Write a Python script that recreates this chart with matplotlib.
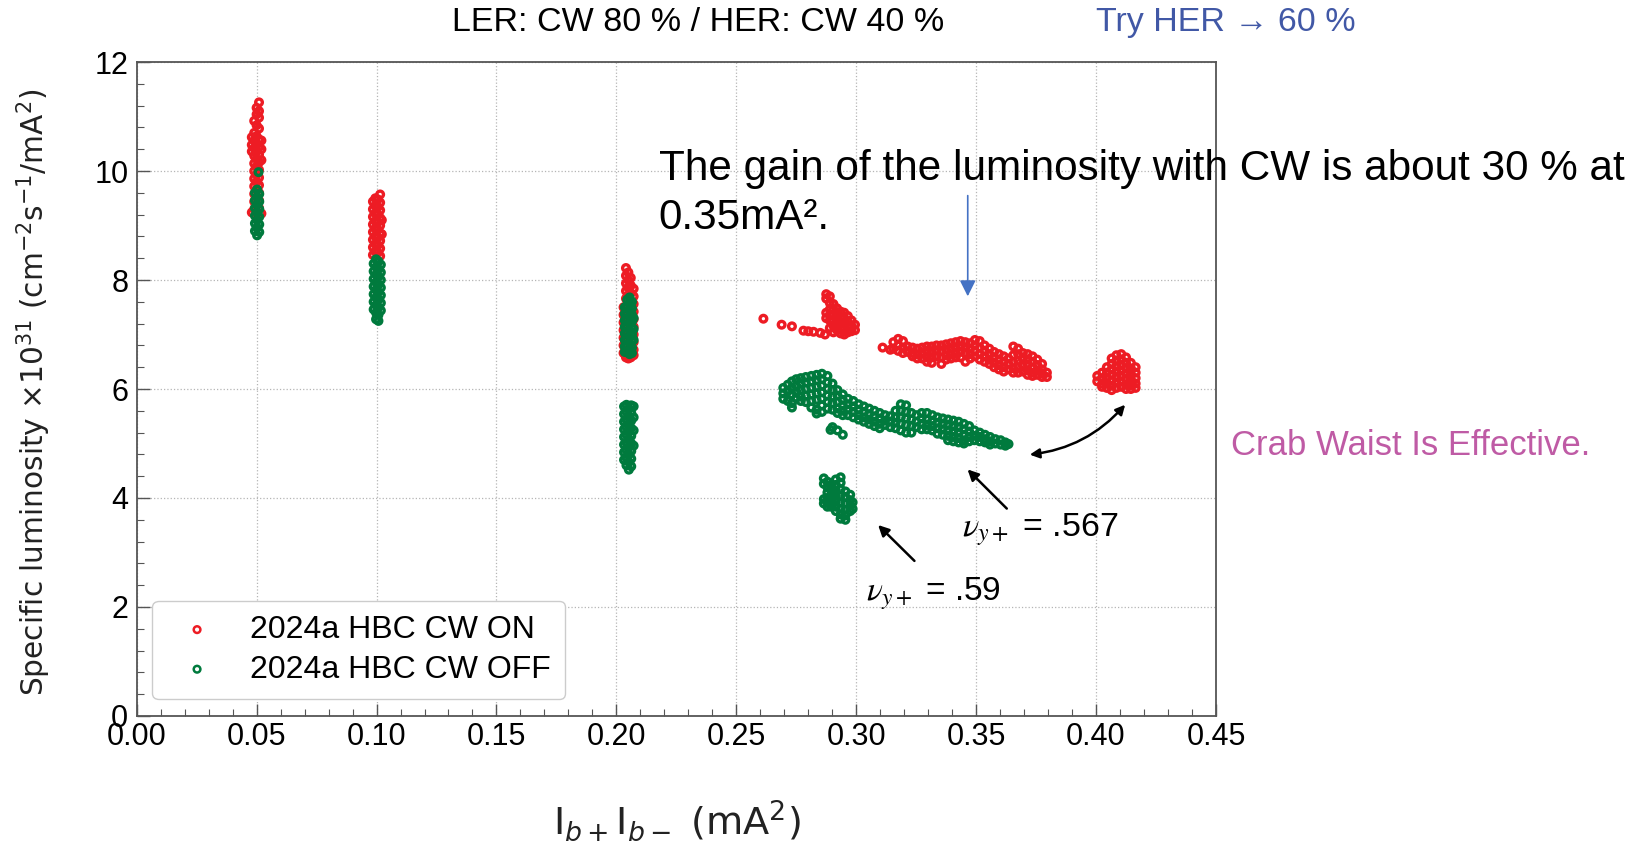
import matplotlib
matplotlib.use("Agg")
import matplotlib.pyplot as plt
from matplotlib.ticker import MultipleLocator, FormatStrFormatter

plt.rcParams['font.family'] = ['Liberation Sans', 'DejaVu Sans']

# Scans: (I_b+ I_b- [mA^2], [specific luminosity x1e31 ...]) columns
CW_ON = [
    # 0.05 mA^2
    (0.0480, [10.62, 10.48, 10.36, 9.24]),
    (0.0490, [10.92, 10.70, 10.56, 10.42, 10.28, 10.14, 10.00, 9.86, 9.72, 9.58, 9.44, 9.30]),
    (0.0500, [11.16, 11.04, 10.84, 10.64, 10.50, 10.36, 10.22, 10.08, 9.94, 9.80, 9.66, 9.52, 9.38]),
    (0.0510, [11.26, 11.10, 10.98, 10.78, 10.58, 10.44, 10.30, 10.16, 10.02, 9.88, 9.74, 9.60, 9.46, 9.32]),
    (0.0520, [10.56, 10.40, 10.20, 9.22]),
    # 0.10 mA^2
    (0.0985, [9.44, 9.30, 9.16, 9.02, 8.88, 8.74, 8.60, 8.46]),
    (0.0995, [9.50, 9.36, 9.22, 9.08, 8.94, 8.80, 8.66, 8.52]),
    (0.1005, [9.48, 9.34, 9.20, 9.06, 8.92, 8.78, 8.64, 8.50]),
    (0.1015, [9.57, 9.42, 9.28, 9.14, 9.00, 8.86, 8.72, 8.58, 8.44]),
    (0.1022, [9.10, 8.84]),
    # 0.20 mA^2
    (0.2030, [7.50, 7.36, 7.22, 7.08, 6.94, 6.80, 6.66]),
    (0.2040, [8.22, 8.08, 7.94, 7.80, 7.66, 6.58]),
    (0.2050, [8.14, 8.00, 7.86, 7.72, 6.56]),
    (0.2060, [8.04, 7.90, 7.76, 6.58]),
    (0.2072, [7.84, 7.70, 7.56, 7.42, 7.28, 7.14, 7.00, 6.86, 6.72, 6.62]),
    # current ramp, 0.26 - 0.30
    (0.2613, [7.29]), (0.2689, [7.18]), (0.2732, [7.15]), (0.2780, [7.07]),
    (0.2800, [7.06]), (0.2822, [7.05]), (0.2850, [7.03]), (0.2870, [7.00]),
    (0.2875, [7.74, 7.66, 7.40, 7.30]),
    (0.2890, [7.70, 7.58, 7.46, 7.36, 7.26, 7.12]),
    (0.2905, [7.56, 7.46, 7.36, 7.26, 7.16, 7.04]),
    (0.2920, [7.48, 7.38, 7.28, 7.18, 7.08]),
    (0.2935, [7.42, 7.32, 7.22, 7.12, 7.02]),
    (0.2950, [7.40, 7.30, 7.20, 7.10, 7.00]),
    (0.2965, [7.34, 7.24, 7.14, 7.04]),
    (0.2980, [7.26, 7.16, 7.06]),
    (0.2995, [7.18, 7.08]),
    # 0.31 - 0.38
    (0.3110, [6.76]), (0.3142, [6.72]), (0.3155, [6.86, 6.74]),
    (0.3175, [6.92, 6.80, 6.70]), (0.3195, [6.88, 6.76, 6.66]),
    (0.3215, [6.78, 6.68]), (0.3235, [6.76, 6.66, 6.60]),
    (0.3255, [6.74, 6.64, 6.56]), (0.3275, [6.76, 6.66, 6.56]),
    (0.3295, [6.78, 6.68, 6.58, 6.50]), (0.3315, [6.78, 6.68, 6.58, 6.48]),
    (0.3335, [6.80, 6.70, 6.60]), (0.3355, [6.80, 6.70, 6.58, 6.46]),
    (0.3375, [6.82, 6.72, 6.62, 6.54]), (0.3395, [6.84, 6.74, 6.64, 6.56]),
    (0.3415, [6.86, 6.76, 6.66, 6.58]), (0.3435, [6.88, 6.78, 6.68, 6.58]),
    (0.3455, [6.86, 6.76, 6.66, 6.50]), (0.3475, [6.84, 6.74, 6.64, 6.56]),
    (0.3495, [6.90, 6.80, 6.70, 6.60]), (0.3515, [6.88, 6.76, 6.64, 6.54]),
    (0.3535, [6.80, 6.70, 6.60, 6.50]), (0.3555, [6.74, 6.64, 6.54, 6.46]),
    (0.3575, [6.68, 6.58, 6.48, 6.40]), (0.3595, [6.64, 6.54, 6.44, 6.36]),
    (0.3615, [6.60, 6.50, 6.40, 6.32]), (0.3635, [6.56, 6.46, 6.36]),
    (0.3655, [6.78, 6.62, 6.50, 6.38, 6.30]), (0.3675, [6.74, 6.64, 6.52, 6.40, 6.30]),
    (0.3695, [6.66, 6.54, 6.42, 6.32]), (0.3715, [6.64, 6.54, 6.44, 6.34, 6.26]),
    (0.3735, [6.60, 6.50, 6.40, 6.30, 6.24]), (0.3755, [6.54, 6.44, 6.34, 6.26]),
    (0.3775, [6.46, 6.36, 6.28, 6.22]), (0.3795, [6.30, 6.22]),
    # 0.41 mA^2
    (0.4005, [6.24, 6.14]),
    (0.4025, [6.30, 6.20, 6.10, 6.04]),
    (0.4045, [6.40, 6.30, 6.20, 6.10, 6.02]),
    (0.4065, [6.56, 6.46, 6.36, 6.26, 6.16, 6.06, 5.98]),
    (0.4085, [6.62, 6.52, 6.42, 6.32, 6.22, 6.12, 6.02]),
    (0.4105, [6.64, 6.54, 6.44, 6.34, 6.24, 6.14, 6.04]),
    (0.4125, [6.58, 6.48, 6.38, 6.28, 6.18, 6.08, 6.00]),
    (0.4145, [6.48, 6.38, 6.28, 6.18, 6.08, 6.00]),
    (0.4165, [6.40, 6.30, 6.20, 6.10, 6.02]),
]

CW_OFF = [
    # 0.05 mA^2
    (0.0508, [9.98]),
    (0.0493, [9.60, 9.46, 9.32, 9.18, 9.04, 8.90]),
    (0.0502, [9.66, 9.52, 9.38, 9.24, 9.10, 8.96, 8.82]),
    (0.0511, [9.58, 9.44, 9.30, 9.16, 9.02, 8.88]),
    # 0.10 mA^2
    (0.0988, [8.30, 8.16, 8.02, 7.88, 7.74, 7.60, 7.46]),
    (0.0998, [8.38, 8.24, 8.10, 7.96, 7.82, 7.68, 7.54, 7.40, 7.28]),
    (0.1008, [8.34, 8.20, 8.06, 7.92, 7.78, 7.64, 7.50, 7.36, 7.25]),
    (0.1018, [8.28, 8.14, 8.00, 7.86, 7.72, 7.58, 7.44]),
    # 0.20 mA^2, upper
    (0.2035, [7.50, 7.38, 7.26, 7.14, 7.02, 6.90, 6.78, 6.68]),
    (0.2045, [7.64, 7.52, 7.40, 7.28, 7.16, 7.04, 6.92, 6.80, 6.68]),
    (0.2055, [7.68, 7.56, 7.44, 7.32, 7.20, 7.08, 6.96, 6.84, 6.72, 6.64]),
    (0.2065, [7.60, 7.48, 7.36, 7.24, 7.12, 7.00, 6.88, 6.76, 6.66]),
    (0.2072, [7.30, 7.10, 6.90]),
    # 0.20 mA^2, lower
    (0.2032, [5.68, 5.54, 5.40, 5.26, 5.12, 4.98, 4.84, 4.70]),
    (0.2042, [5.71, 5.58, 5.44, 5.30, 5.16, 5.02, 4.88, 4.74, 4.60]),
    (0.2052, [5.64, 5.50, 5.36, 5.22, 5.08, 4.94, 4.80, 4.66, 4.52]),
    (0.2062, [5.70, 5.56, 5.42, 5.28, 5.14, 5.00, 4.86, 4.72, 4.58]),
    (0.2072, [5.68, 5.48, 5.24, 4.96]),
    # nu_y = .59
    (0.2865, [4.36, 4.26, 3.98, 3.90]),
    (0.2880, [4.30, 4.20, 4.10, 4.00, 3.92, 3.84]),
    (0.2895, [4.24, 4.14, 4.04, 3.94, 3.84]),
    (0.2915, [4.34, 4.24, 4.14, 4.04, 3.94, 3.84, 3.76]),
    (0.2935, [4.38, 4.28, 4.16, 4.04, 3.92, 3.80, 3.70, 3.62]),
    (0.2955, [4.12, 4.02, 3.90, 3.78, 3.68, 3.60]),
    (0.2975, [4.06, 3.96, 3.86, 3.76]),
    (0.2985, [3.92, 3.80]),
    # nu_y = .567
    (0.2696, [6.02, 5.92, 5.82]),
    (0.2715, [6.08, 5.96, 5.78]),
    (0.2732, [6.14, 6.02, 5.90, 5.74, 5.66]),
    (0.2750, [6.18, 6.06, 5.95, 5.84]),
    (0.2769, [6.20, 6.10, 5.98, 5.86, 5.78]),
    (0.2790, [6.22, 6.12, 6.00, 5.88, 5.76]),
    (0.2813, [6.24, 6.14, 6.02, 5.90, 5.78, 5.66]),
    (0.2835, [6.26, 6.16, 6.04, 5.92, 5.80, 5.62, 5.55]),
    (0.2857, [6.28, 6.18, 6.06, 5.94, 5.82, 5.70, 5.58]),
    (0.2880, [6.24, 6.12, 6.00, 5.88, 5.76, 5.64]),
    (0.2893, [5.25]),
    (0.2901, [6.10, 5.98, 5.86, 5.74, 5.62, 5.30]),
    (0.2922, [5.98, 5.88, 5.76, 5.64, 5.56, 5.24]),
    (0.2944, [5.90, 5.80, 5.70, 5.60, 5.52, 5.16]),
    (0.2966, [5.82, 5.72, 5.62, 5.52]),
    (0.2988, [5.78, 5.68, 5.58, 5.48]),
    (0.3010, [5.72, 5.62, 5.52, 5.44]),
    (0.3032, [5.68, 5.58, 5.48, 5.40]),
    (0.3054, [5.64, 5.54, 5.44, 5.36]),
    (0.3076, [5.60, 5.50, 5.40, 5.32]),
    (0.3098, [5.56, 5.46, 5.36, 5.28]),
    (0.3120, [5.52, 5.42, 5.34]),
    (0.3142, [5.50, 5.40, 5.30]),
    (0.3164, [5.60, 5.48, 5.38, 5.28]),
    (0.3186, [5.72, 5.60, 5.48, 5.36, 5.24]),
    (0.3208, [5.70, 5.58, 5.46, 5.34, 5.20]),
    (0.3230, [5.56, 5.44, 5.32, 5.20]),
    (0.3251, [5.52, 5.40, 5.30]),
    (0.3273, [5.56, 5.46, 5.36, 5.26]),
    (0.3295, [5.56, 5.44, 5.34, 5.26]),
    (0.3317, [5.52, 5.42, 5.32, 5.24]),
    (0.3339, [5.48, 5.38, 5.28, 5.18]),
    (0.3361, [5.46, 5.36, 5.26, 5.16]),
    (0.3383, [5.44, 5.34, 5.24, 5.14, 5.06]),
    (0.3405, [5.42, 5.32, 5.22, 5.12, 5.04]),
    (0.3427, [5.40, 5.30, 5.20, 5.10, 5.02]),
    (0.3449, [5.36, 5.26, 5.16, 5.06, 5.00]),
    (0.3471, [5.32, 5.22, 5.12, 5.04]),
    (0.3493, [5.24, 5.14, 5.06]),
    (0.3515, [5.20, 5.12, 5.04]),
    (0.3537, [5.16, 5.08, 5.02]),
    (0.3558, [5.12, 5.04, 4.98]),
    (0.3580, [5.08, 5.00]),
    (0.3602, [5.06, 4.98]),
    (0.3622, [5.02, 4.96]),
    (0.3635, [4.99]),
]

LABEL_ON = "2024a HBC CW ON"
LABEL_OFF = "2024a HBC CW OFF"
RED = "#ED1C24"
GREEN = "#007A3D"


def flatten(cols):
    xs, ys = [], []
    for x, yl in cols:
        for y in yl:
            xs.append(x)
            ys.append(y)
    return xs, ys


fig = plt.figure(figsize=(16.39, 8.43), dpi=100)
ax = fig.add_axes([0.0834, 0.1507, 0.6585, 0.7757])

x_on, y_on = flatten(CW_ON)
x_off, y_off = flatten(CW_OFF)
ax.scatter(x_on, y_on, s=23, facecolors='none', edgecolors=RED, linewidths=2.4, label=LABEL_ON, zorder=3)
ax.scatter(x_off, y_off, s=23, facecolors='none', edgecolors=GREEN, linewidths=2.4, label=LABEL_OFF, zorder=3)

ax.set_xlim(0, 0.45)
ax.set_ylim(0, 12)
ax.xaxis.set_major_locator(MultipleLocator(0.05))
ax.xaxis.set_minor_locator(MultipleLocator(0.01))
ax.xaxis.set_major_formatter(FormatStrFormatter('%.2f'))
ax.yaxis.set_major_locator(MultipleLocator(2))
ax.yaxis.set_minor_locator(MultipleLocator(0.4))
ax.tick_params(which='both', direction='in', color='#555555', labelsize=22)
ax.tick_params(axis='x', pad=4)
ax.tick_params(axis='y', pad=6)
ax.tick_params(which='major', length=9, width=1)
ax.tick_params(which='minor', length=5, width=0.8)
ax.grid(True, which='major', linestyle=':', color='#b5b5b5', linewidth=0.9)
ax.set_axisbelow(True)
for sp in ax.spines.values():
    sp.set_color('#555555')
    sp.set_linewidth(1.3)

leg = ax.legend(loc='lower left', bbox_to_anchor=(0.0145, 0.026), borderaxespad=0,
                fontsize=23, scatterpoints=1, handlelength=1.9, handletextpad=0.7,
                labelspacing=0.3, borderpad=0.45, frameon=True, fancybox=True)
leg.get_frame().set_edgecolor('#cccccc')
leg.get_frame().set_alpha(1)
for h in leg.legend_handles:
    h.set_linewidths([1.8])

# axis labels
fig.text(0.0204, 0.535, r'Specific luminosity $\times$10$^{31}$ (cm$^{-2}$s$^{-1}$/mA$^2$)',
         rotation=90, ha='center', va='center', fontsize=21.3, family='DejaVu Sans', color='#222222')
fig.text(0.413, 0.027, r'I$_{b+}$I$_{b-}$ (mA$^2$)', ha='center', va='center',
         fontsize=27.5, family='DejaVu Sans', color='#222222')

# headers
fig.text(0.426, 0.973, 'LER: CW 80 % / HER: CW 40 %', ha='center', va='center', fontsize=24.5)
fig.text(0.748, 0.973, 'Try HER \u2192 60 %', ha='center', va='center', fontsize=24.5, color='#4158A6')
fig.text(0.751, 0.471, 'Crab Waist Is Effective.', ha='left', va='center', fontsize=25, color='#BF5BA5')
fig.text(0.4018, 0.7705, 'The gain of the luminosity with CW is about 30 % at\n0.35mA\u00b2.',
         ha='left', va='center', fontsize=30.4, linespacing=1.3)

# arrows
ax.annotate('', xy=(0.3465, 7.65), xytext=(0.3465, 9.60),
            arrowprops=dict(arrowstyle='-|>', color='#4472C4', lw=1.2, mutation_scale=24))
ax.annotate('', xy=(0.3456, 4.56), xytext=(0.3636, 3.77),
            arrowprops=dict(arrowstyle='-|>', color='black', lw=1.8, mutation_scale=16))
ax.annotate('', xy=(0.3083, 3.54), xytext=(0.3251, 2.81),
            arrowprops=dict(arrowstyle='-|>', color='black', lw=1.8, mutation_scale=16))
ax.annotate('', xy=(0.4129, 5.75), xytext=(0.3712, 4.79),
            arrowprops=dict(arrowstyle='<|-|>', color='black', lw=1.8, mutation_scale=14,
                            connectionstyle='arc3,rad=0.2'))

ax.text(0.3442, 3.30, r'$\nu_{y+}$ = .567', fontsize=24.5, va='baseline', math_fontfamily='stix')
ax.text(0.3039, 2.11, r'$\nu_{y+}$ = .59', fontsize=24, va='baseline', math_fontfamily='stix')

fig.savefig('out.png', dpi=100)
